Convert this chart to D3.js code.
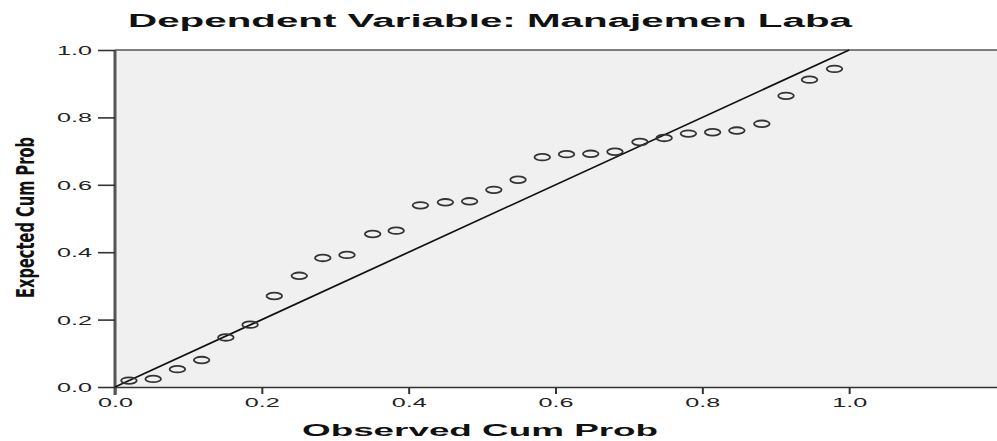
<!DOCTYPE html>
<html>
<head>
<meta charset="utf-8">
<script src="https://cdn.jsdelivr.net/npm/d3@7"></script>
<style>
  html, body { margin: 0; padding: 0; background: #ffffff; }
  svg { display: block; }
</style>
</head>
<body>
<svg id="chart" width="997" height="441"></svg>
<script>
const titleText = "Dependent Variable: Manajemen Laba";
const xTitle = "Observed Cum Prob";
const yTitle = "Expected Cum Prob";
const xTicks = [0.0, 0.2, 0.4, 0.6, 0.8, 1.0];
const yTicks = [0.0, 0.2, 0.4, 0.6, 0.8, 1.0];
const observed = [0.019, 0.052, 0.085, 0.118, 0.151, 0.184, 0.217, 0.251, 0.283, 0.316,
                  0.351, 0.383, 0.416, 0.450, 0.483, 0.516, 0.549, 0.582, 0.615, 0.648,
                  0.681, 0.715, 0.748, 0.781, 0.814, 0.847, 0.881, 0.914, 0.946, 0.980];
const expected = [0.019, 0.024, 0.053, 0.080, 0.147, 0.185, 0.270, 0.330, 0.383, 0.392,
                  0.454, 0.464, 0.539, 0.548, 0.551, 0.585, 0.615, 0.682, 0.691, 0.692,
                  0.698, 0.727, 0.739, 0.752, 0.756, 0.761, 0.781, 0.864, 0.912, 0.944];
const refLine = [[0, 0], [1, 1]];

const svg = d3.select("#chart");
const pLeft = 115, pRight = 997, pTop = 50, pBottom = 387;
const x = d3.scaleLinear().domain([0, 1.2]).range([pLeft, 996]);
const y = d3.scaleLinear().domain([0, 1]).range([pBottom, pTop]);

// plot background
svg.append("rect").attr("x", pLeft).attr("y", pTop)
  .attr("width", pRight - pLeft).attr("height", pBottom - pTop)
  .attr("fill", "#f0f0f0");

// top border
svg.append("line").attr("x1", pLeft).attr("x2", pRight).attr("y1", pTop).attr("y2", pTop)
  .attr("stroke", "#555").attr("stroke-width", 1.6);

// x axis
const xAxis = d3.axisBottom(x).tickValues(xTicks).tickSize(7).tickFormat(d3.format(".1f"));
const gx = svg.append("g").attr("transform", `translate(0,${pBottom})`).call(xAxis);
gx.select(".domain").attr("d", `M${pLeft},0.5H${pRight}`).attr("stroke", "#333").attr("stroke-width", 1.6);
gx.selectAll(".tick line").attr("stroke", "#333").attr("stroke-width", 2);
gx.selectAll(".tick text")
  .attr("y", 20).attr("dy", 0)
  .attr("font-family", "Liberation Sans, Arial, sans-serif")
  .attr("font-size", 12.5).attr("fill", "#222")
  .attr("textLength", 35).attr("lengthAdjust", "spacingAndGlyphs");

// y axis
const yAxis = d3.axisLeft(y).tickValues(yTicks).tickSize(17).tickFormat(d3.format(".1f"));
const gy = svg.append("g").attr("transform", `translate(${pLeft},0)`).call(yAxis);
gy.select(".domain").attr("d", `M0,${pTop}V${pBottom + 8}`).attr("stroke", "#555").attr("stroke-width", 3);
gy.selectAll(".tick line").attr("stroke", "#333").attr("stroke-width", 1.6);
gy.selectAll(".tick text")
  .attr("x", -23).attr("dy", "0.36em")
  .attr("font-family", "Liberation Sans, Arial, sans-serif")
  .attr("font-size", 12.5).attr("fill", "#222")
  .attr("textLength", 35).attr("lengthAdjust", "spacingAndGlyphs");

// reference line
svg.append("path")
  .attr("d", d3.line().x(d => x(d[0])).y(d => y(d[1]))(refLine))
  .attr("fill", "none").attr("stroke", "#111").attr("stroke-width", 1.7);

// points
svg.append("g").selectAll("ellipse")
  .data(observed.map((o, i) => [o, expected[i]]))
  .join("ellipse")
  .attr("cx", d => x(d[0])).attr("cy", d => y(d[1]))
  .attr("rx", 7.8).attr("ry", 3.3)
  .attr("fill", "none").attr("stroke", "#333").attr("stroke-width", 1.8);

// title
svg.append("text").attr("x", 128).attr("y", 27)
  .attr("font-family", "Liberation Sans, Arial, sans-serif")
  .attr("font-weight", "bold").attr("font-size", 18).attr("fill", "#111")
  .attr("textLength", 724).attr("lengthAdjust", "spacingAndGlyphs")
  .text(titleText);

// x title
svg.append("text").attr("x", 302).attr("y", 436)
  .attr("font-family", "Liberation Sans, Arial, sans-serif")
  .attr("font-weight", "bold").attr("font-size", 17).attr("fill", "#111")
  .attr("textLength", 356).attr("lengthAdjust", "spacingAndGlyphs")
  .text(xTitle);

// y title
svg.append("text")
  .attr("transform", "translate(34,298) rotate(-90)")
  .attr("font-family", "Liberation Sans Narrow, DejaVu Sans Condensed, Arial Narrow, sans-serif")
  .attr("font-weight", "bold").attr("font-size", 24).attr("fill", "#111")
  .attr("textLength", 161).attr("lengthAdjust", "spacingAndGlyphs")
  .text(yTitle);
</script>
</body>
</html>
